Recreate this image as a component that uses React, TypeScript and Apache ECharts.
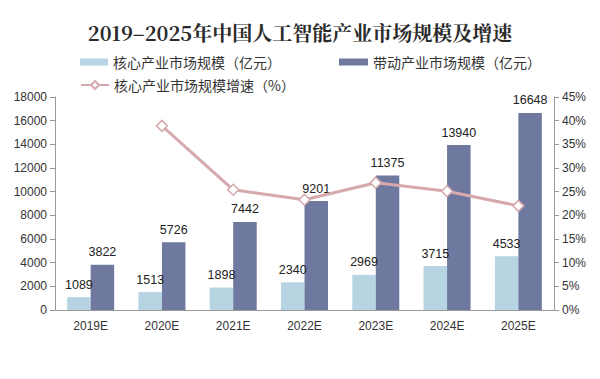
import React, { useEffect, useRef } from "react";
import * as echarts from "echarts";

const categories = ["2019E", "2020E", "2021E", "2022E", "2023E", "2024E", "2025E"];
const coreScale = [1089, 1513, 1898, 2340, 2969, 3715, 4533];
const drivenScale = [3822, 5726, 7442, 9201, 11375, 13940, 16648];
const coreGrowth: (number | null)[] = [null, 38.9, 25.4, 23.3, 26.9, 25.1, 22.0];

const nameCore = "核心产业市场规模（亿元）";
const nameDriven = "带动产业市场规模（亿元）";
const nameGrowth = "核心产业市场规模增速（%）";

export default function App() {
  const ref = useRef<HTMLDivElement>(null);
  useEffect(() => {
    if (!ref.current) return;
    const chart = echarts.init(ref.current, null, { renderer: "svg" });
    const font = "Liberation Sans, Arial, sans-serif";
    const cjk = "'Noto Sans CJK SC', sans-serif";
    const legendText = { fontSize: 14, color: "#333", fontFamily: cjk };
    chart.setOption({
      animation: false,
      backgroundColor: "#fff",
      title: {
        text: "2019–2025年中国人工智能产业市场规模及增速",
        left: "center",
        top: 17,
        textStyle: { fontSize: 20, fontWeight: "bold", color: "#2a2a2a", fontFamily: "'Noto Serif CJK SC', 'DejaVu Serif', serif" },
      },
      legend: [
        { data: [nameCore], left: 75, top: 50, itemWidth: 28, itemHeight: 7, itemGap: 5, textStyle: legendText, icon: "rect" },
        { data: [nameDriven], left: 334, top: 50, itemWidth: 29, itemHeight: 7, textStyle: legendText, icon: "rect" },
        { data: [nameGrowth], left: 75, top: 73, itemWidth: 28, itemHeight: 10, textStyle: legendText },
      ],
      grid: { left: 55, right: 46, top: 97, bottom: 69 },
      xAxis: {
        type: "category",
        data: categories,
        axisLine: { lineStyle: { color: "#999" } },
        axisTick: { lineStyle: { color: "#999" } },
        axisLabel: { color: "#333", fontSize: 12, fontFamily: font, margin: 10 },
      },
      yAxis: [
        {
          type: "value",
          min: 0,
          max: 18000,
          interval: 2000,
          axisLine: { show: true, lineStyle: { color: "#999" } },
          axisTick: { show: true, lineStyle: { color: "#999" } },
          splitLine: { show: false },
          axisLabel: { color: "#333", fontSize: 12, fontFamily: font, margin: 8, formatter: (v: number) => String(v) },
        },
        {
          type: "value",
          min: 0,
          max: 45,
          interval: 5,
          position: "right",
          axisLine: { show: true, lineStyle: { color: "#999" } },
          axisTick: { show: true, lineStyle: { color: "#999" } },
          splitLine: { show: false },
          axisLabel: { color: "#333", fontSize: 12, fontFamily: font, formatter: "{value}%", margin: 8 },
        },
      ],
      series: [
        {
          name: nameCore,
          type: "bar",
          data: coreScale,
          barWidth: 23.5,
          barGap: "0%",
          itemStyle: { color: "#b6d4e2" },
          label: { show: true, position: "top", color: "#222", fontSize: 12.5, fontFamily: font, distance: 6 },
        },
        {
          name: nameDriven,
          type: "bar",
          data: drivenScale,
          barWidth: 23.5,
          barGap: "0%",
          itemStyle: { color: "#6f799f" },
          label: { show: true, position: "top", color: "#222", fontSize: 12.5, fontFamily: font, distance: 6 },
        },
        {
          name: nameGrowth,
          type: "line",
          yAxisIndex: 1,
          data: coreGrowth,
          symbol: "diamond",
          symbolSize: 11,
          lineStyle: { color: "#d6a9ad", width: 3 },
          itemStyle: { color: "#fff", borderColor: "#d6a9ad", borderWidth: 1.5 },
          z: 5,
        },
      ],
    });
    return () => chart.dispose();
  }, []);
  return <div ref={ref} style={{ width: 600, height: 379, position: "absolute", left: 0, top: 0 }} />;
}
